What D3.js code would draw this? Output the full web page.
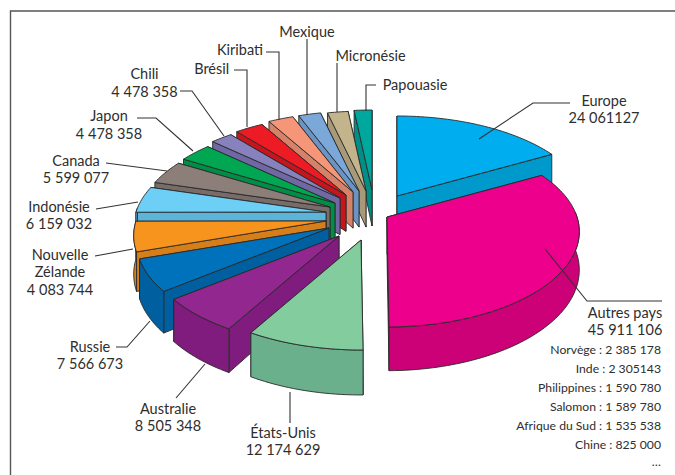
<!DOCTYPE html>
<html><head><meta charset="utf-8">
<script src="https://cdn.jsdelivr.net/npm/d3@7/dist/d3.min.js"></script>
<style>html,body{margin:0;padding:0;background:#fff}svg{display:block}text{font-family:Lato,"Open Sans",sans-serif;fill:#2e2e2e}</style>
</head><body><svg id="c" width="675" height="475"></svg>
<script>
const countries = ["Europe","Autres pays","États-Unis","Australie","Russie","Nouvelle Zélande","Indonésie","Canada","Japon","Chili","Brésil","Kiribati","Mexique","Micronésie","Papouasie"];
// wedge sizes (millions)
const wedgeValues = [24.06,45.91,12.17,8.51,7.57,7.0,6.16,5.6,4.48,3.0,3.9,3.5,3.1,2.9,2.5];
const topColors = ["#00aeef","#ec008c","#82cc9e","#92278f","#0072bc","#f7941d","#6dcff6","#8c7f7a","#00a651","#8781bd","#ed1c24","#f69679","#7ba7d9","#c4b48c","#00a79d"];
const sideColors = ["#0099cc","#cc0077","#6bb08c","#7f1c7d","#005f9e","#d67e1a","#5cb5d9","#786c68","#008d45","#7068a4","#c4161c","#d68268","#6a94c4","#a99a77","#008f86"];
// how far each wedge is pulled out of the pie centre
const centre = [350,210];
const pullX = [47,37,11,-11,-21,-24,-24,-20,-15,-10,-4,3,9,16,22];
const pullY = [-14,7,30,26,18,11,2,-3,-7,-12,-15,-18,-19,-19,-20];

const labels = [
 {lines:["Europe","24 061127"],x:604,y:[101,118]},
 {lines:["Autres pays","45 911 106"],x:625,y:[313,330]},
 {lines:["États-Unis","12 174 629"],x:283,y:[433,450]},
 {lines:["Australie","8 505 348"],x:168,y:[409,426]},
 {lines:["Russie","7 566 673"],x:90,y:[347,364]},
 {lines:["Nouvelle","Zélande","4 083 744"],x:60,y:[254.6,272,290]},
 {lines:["Indonésie","6 159 032"],x:59,y:[207,224]},
 {lines:["Canada","5 599 077"],x:76,y:[161,178]},
 {lines:["Japon","4 478 358"],x:109,y:[116,134]},
 {lines:["Chili","4 478 358"],x:144.5,y:[74,92]},
 {lines:["Brésil"],x:211.7,y:[69]},
 {lines:["Kiribati"],x:240,y:[50]},
 {lines:["Mexique"],x:307,y:[32]},
 {lines:["Micronésie"],x:370.5,y:[56]},
 {lines:["Papouasie"],x:415,y:[85]}
];
const otherCountries = ["Norvège : 2 385 178","Inde : 2 305143","Philippines : 1 590 780","Salomon : 1 589 780","Afrique du Sud : 1 535 538","Chine : 825 000","…"];
const otherY = [350,369,388,407,426,445,462];
const leaders = [
 [[479,139],[533,103],[570,103]],
 [[545,249],[587,301],[662,301]],
 [[290,392],[290,423]],
 [[205,364],[176,398]],
 [[150,321],[127,347],[116,347]],
 [[133,249],[95,256]],
 [[138,202],[96,209]],
 [[167,171],[106,163]],
 [[193,151],[156,118],[137,118]],
 [[224,136],[192,91],[180,91]],
 [[247,127],[247,70],[234,70]],
 [[279,120],[279,52],[266,52]],
 [[307,115],[307,39]],
 [[337,112],[337,63]],
 [[366,111],[366,85],[376,85]]
];

const svg = d3.select("#c");
const line = d3.line();
const closed = pts => line(pts)+"Z";

// tilted projection of a point on the unit pie rim
const rim = a => {
  const s=Math.sin(a), c=Math.cos(a);
  return [s*(190-30*c), -95*c+15*c*c];
};
const depth = y => 36+(y-190)*0.056;
const drop = p => [p[0], p[1]+depth(p[1])];

const arcs = d3.pie().sort(null).value(d=>d)(wedgeValues);
const slices = arcs.map((a,i)=>{
  const ax=centre[0]+pullX[i], ay=centre[1]+pullY[i];
  const apex=[ax,ay];
  const n=Math.max(6,Math.ceil((a.endAngle-a.startAngle)*40));
  const ts=d3.range(n+1).map(k=>a.startAngle+(a.endAngle-a.startAngle)*k/n);
  const toPt=t=>{const r=rim(t);return [ax+r[0],ay+r[1]];};
  return {i,apex,rimPts:ts.map(toPt),frontPts:ts.filter(t=>Math.cos(t)<0.05).map(toPt),mid:(a.startAngle+a.endAngle)/2};
}).sort((p,q)=>Math.cos(q.mid)-Math.cos(p.mid));

const ink="#2a2a2a";
const g=svg.append("g").attr("stroke",ink).attr("stroke-width",0.9).attr("stroke-linejoin","round");
slices.forEach(s=>{
  const first=s.rimPts[0], last=s.rimPts[s.rimPts.length-1];
  const faces=[first,last].sort((a,b)=>a[1]-b[1]);
  faces.forEach(p=>{
    g.append("path").attr("d",closed([s.apex,p,drop(p),drop(s.apex)])).attr("fill",sideColors[s.i]);
  });
  if(s.frontPts.length>1)
    g.append("path").attr("d",closed([...s.frontPts,...s.frontPts.map(drop).reverse()])).attr("fill",sideColors[s.i]);
  g.append("path").attr("d",closed([s.apex,...s.rimPts])).attr("fill",topColors[s.i]);
});

svg.append("path").attr("d",line([[10.5,475],[10.5,11],[675,11]])).attr("fill","none").attr("stroke","#555").attr("stroke-width",1.4);

svg.append("g").attr("fill","none").attr("stroke","#333").attr("stroke-width",1.1)
  .selectAll("path").data(leaders).join("path").attr("d",d=>line(d));

labels.forEach(l=>{
  l.lines.forEach((t,k)=>{
    svg.append("text").attr("x",l.x).attr("y",l.y[k]).attr("dy","0.35em").attr("text-anchor","middle").attr("font-size",14.5).text(t);
  });
});
otherCountries.forEach((t,k)=>{
  svg.append("text").attr("x",661).attr("y",otherY[k]).attr("dy","0.35em").attr("text-anchor","end").attr("font-size",12.2).text(t);
});
</script></body></html>
